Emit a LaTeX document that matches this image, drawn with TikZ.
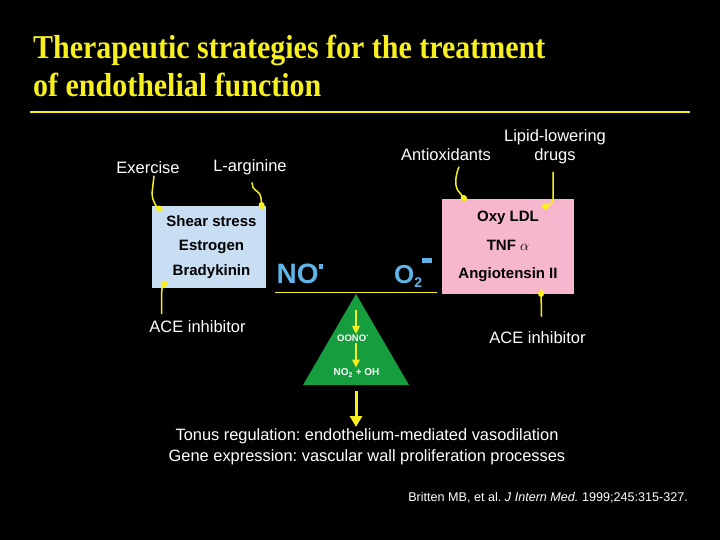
\documentclass[tikz,border=0pt]{standalone}
\usepackage{fontspec}
\setmainfont{Liberation Sans}
\newfontfamily\headfont[FakeStretch=0.9]{Liberation Serif}
\usepackage{xcolor}
\definecolor{slideYellow}{RGB}{248,240,30}
\definecolor{slideBlue}{RGB}{200,222,242}
\definecolor{slidePink}{RGB}{246,182,206}
\definecolor{radicalBlue}{RGB}{95,180,232}
\definecolor{slideGreen}{RGB}{22,158,62}
\usetikzlibrary{arrows.meta, positioning}
\frenchspacing

\begin{document}
\begin{tikzpicture}[x=1pt, y=-1pt,
  heading/.style={anchor=base west, inner sep=0pt, text=slideYellow,
                  font=\headfont\bfseries\fontsize{33.3}{39}\selectfont},
  factor/.style={rectangle, inner sep=0pt, align=center, text=black,
                 font=\bfseries\fontsize{15}{24.5}\selectfont},
  lab/.style={text=white, inner sep=1pt, align=center,
              font=\fontsize{16.5}{17}\selectfont},
  radical/.style={text=radicalBlue, inner sep=0pt,
                  font=\bfseries\fontsize{28}{28}\selectfont},
  chem/.style={text=white, inner sep=1pt, anchor=base, font=\bfseries\fontsize{10}{11}\selectfont},
  lead/.style={draw=slideYellow, line width=1.5pt, -{Circle[length=7pt, width=6pt]}},
  smallarrow/.style={draw=slideYellow, line width=2.3pt, -{Triangle[length=8pt, width=7.5pt]}},
  bigarrow/.style={draw=slideYellow, line width=3pt, -{Triangle[length=11pt, width=12pt]}},
]
  \fill[black] (0,0) rectangle (720,540);
  \useasboundingbox (0,0) rectangle (720,540);

  \node[heading] (title1) at (33,58.3) {Therapeutic strategies for the treatment};
  \node[heading] (title2) at (33,96.7) {of endothelial function};
  \draw[slideYellow, line width=2pt] (30,112.3) -- (690,112.3);

  \node[factor, fill=slideBlue, minimum width=114pt, minimum height=82pt] (protect) at (209,247)
    {\hspace*{5pt}Shear stress\\\hspace*{5pt}Estrogen\\\hspace*{5pt}Bradykinin};
  \node[factor, fill=slidePink, minimum width=132pt, minimum height=95pt,
        font=\bfseries\fontsize{15}{28.5}\selectfont] (damage) at (508,246.5)
    {Oxy LDL\\TNF $\alpha$\\Angiotensin II};

  \node[lab] (exercise) at (148,167.5) {Exercise};
  \node[lab] (larginine) at (250,167.5) {L-arginine};
  \node[lab] (aceLeft) at (197.5,326.5) {ACE inhibitor};
  \node[lab] (antiox) at (446,154.5) {Antioxidants};
  \node[lab, font=\fontsize{16.5}{19}\selectfont] (lipid) at (555,146.5) {Lipid-lowering\\drugs};
  \node[lab] (aceRight) at (537.5,338) {ACE inhibitor};

  \coordinate (exDot) at (162,211);
  \coordinate (larDot) at (262,209);
  \coordinate (aceLDot) at (168,283);
  \coordinate (aoDot) at (466,201);
  \coordinate (lipDot) at (542,207);
  \coordinate (aceRDot) at (541,290);

  \draw[lead] ([xshift=6pt, yshift=-1pt]exercise.south) -- ++(-2,18)
    .. controls ++(0,7) and (157,207) .. (exDot);
  \draw[lead] ([xshift=2pt, yshift=-6pt]larginine.south) -- ++(1,5)
    .. controls ++(1,3) and (261,192) .. (261,198) -- (larDot);
  \draw[lead] ([xshift=-36pt, yshift=5pt]aceLeft.north) -- ++(0,-20)
    .. controls ++(0,-6) and (164,284) .. (aceLDot);
  \draw[lead] ([xshift=13pt, yshift=-5pt]antiox.south) .. controls ++(-4,10) and (454,188) .. (460,193)
    -- (aoDot);
  \draw[lead] ([xshift=-2pt, yshift=-7pt]lipid.south) -- ++(0,27)
    .. controls ++(0,5) and (547,206) .. (lipDot);
  \draw[lead] ([xshift=4pt, yshift=14pt]aceRight.north) -- (aceRDot);

  \node[radical, anchor=base west] (no) at (276.5,283)
    {NO\raisebox{14.5pt}{\rule{4pt}{4.5pt}}};
  \node[radical, anchor=base west, font=\bfseries\fontsize{26}{26}\selectfont] (otwo) at (394,283)
    {O\raisebox{-4pt}{\fontsize{14}{14}\selectfont 2}\raisebox{20pt}{\rule{10pt}{5pt}}};
  \draw[slideYellow, line width=1.5pt] (275,292.5) -- (437,292.5);

  \coordinate (apex) at (356,294);
  \coordinate (baseLeft) at (303,385);
  \coordinate (baseRight) at (409,385);
  \coordinate (baseMid) at (356,385);
  \fill[slideGreen] (apex) -- (baseRight) -- (baseLeft) -- cycle;

  \node[chem, font=\bfseries\fontsize{9.5}{11}\selectfont] (oono) at (353,341.7) {OONO\textsuperscript{-}};
  \node[chem] (nooh) at (356.5,375.7) {NO\textsubscript{2} + OH};
  \draw[smallarrow] ([yshift=-16pt]apex) -- (apex |- oono.north);
  \draw[smallarrow] (apex |- oono.south) -- (apex |- nooh.north);

  \node[lab, font=\fontsize{16.4}{21}\selectfont, anchor=north] (effects) at (367,427)
    {Tonus regulation: endothelium-mediated vasodilation\\Gene expression: vascular wall proliferation processes};
  \draw[bigarrow] ([yshift=-6pt]baseMid) -- (baseMid |- effects.north);

  \node[lab, anchor=base east, font=\fontsize{12.6}{12.6}\selectfont] (cite) at (689,501.5)
    {Britten MB, et al. \textit{J Intern Med.} 1999;245:315-327.};
\end{tikzpicture}
\end{document}
